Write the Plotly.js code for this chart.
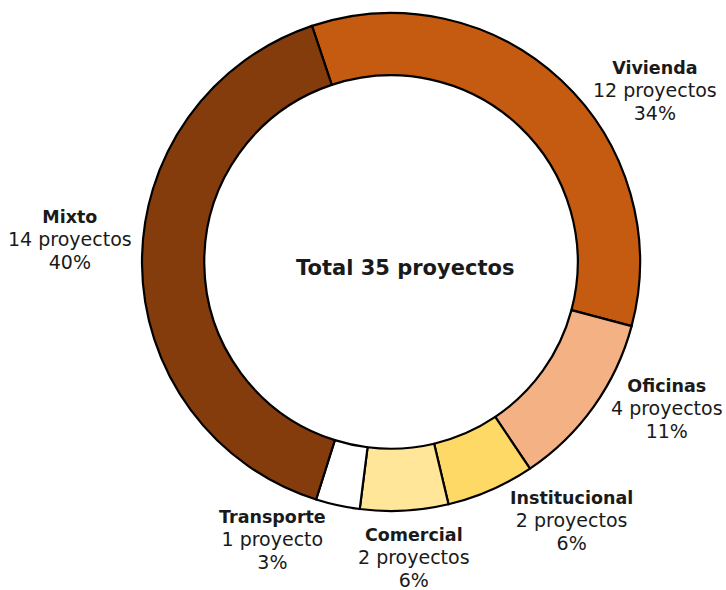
<!DOCTYPE html>
<html>
<head>
<meta charset="utf-8">
<script src="https://cdn.plot.ly/plotly-3.0.1.min.js"></script>
<style>html,body{margin:0;padding:0;background:#fff;}#chart{width:726px;height:590px;}</style>
</head>
<body>
<div id="chart"></div>
<script>
const categories = ["Vivienda", "Oficinas", "Institucional", "Comercial", "Transporte", "Mixto"];
const projects = [12, 4, 2, 2, 1, 14];
const percentLabels = ["34%", "11%", "6%", "6%", "3%", "40%"];
const colors = ["#C55A11", "#F4B183", "#FFD966", "#FFE699", "#FFFFFF", "#843C0C"];
const centerText = "Total 35 proyectos";

// label anchor positions (paper coords, layout only)
const labelPos = [
  [655/726, 1 - 91/590],
  [667/726, 1 - 409/590],
  [571/726, 1 - 521/590],
  [414/726, 1 - 558/590],
  [272/726, 1 - 540/590],
  [70/726, 1 - 240/590]
];

const W = 726, H = 590;
const cx = 391, cy = 262, R = 249;

const trace = {
  type: "pie",
  labels: categories,
  values: projects,
  sort: false,
  direction: "clockwise",
  rotation: -18.5,
  hole: 0.75,
  textinfo: "none",
  hoverinfo: "label+value+percent",
  marker: { colors: colors, line: { color: "#000000", width: 2.2 } },
  domain: { x: [(cx - R) / W, (cx + R) / W], y: [1 - (cy + R) / H, 1 - (cy - R) / H] },
  showlegend: false
};

const regular = s => '<span style="font-size:19px">' + s + '</span>';

const annotations = categories.map((c, i) => ({
  xref: "paper", yref: "paper",
  x: labelPos[i][0], y: labelPos[i][1],
  xanchor: "center", yanchor: "middle",
  showarrow: false, align: "center",
  text: "<b>" + c + "</b><br>" + regular(projects[i] + (projects[i] === 1 ? " proyecto" : " proyectos")) + "<br>" + regular(percentLabels[i]),
  font: { family: "DejaVu Sans", size: 17.5, color: "#1a1a1a" }
}));
annotations.push({
  xref: "paper", yref: "paper",
  x: 405 / W, y: 1 - 268 / H,
  xanchor: "center", yanchor: "middle",
  showarrow: false,
  text: "<b>" + centerText + "</b>",
  font: { family: "DejaVu Sans", size: 21, color: "#1a1a1a" }
});

const layout = {
  width: W, height: H,
  margin: { l: 0, r: 0, t: 0, b: 0 },
  paper_bgcolor: "#ffffff",
  plot_bgcolor: "#ffffff",
  annotations: annotations
};

Plotly.newPlot("chart", [trace], layout, { displayModeBar: false, staticPlot: true });
</script>
</body>
</html>
